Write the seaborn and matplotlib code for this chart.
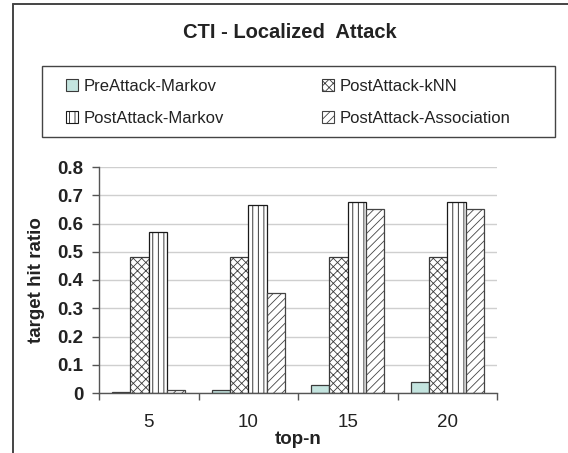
import matplotlib
matplotlib.use("Agg")
import matplotlib.pyplot as plt
from matplotlib.lines import Line2D
from matplotlib.patches import Patch, Rectangle
import numpy as np
import pandas as pd
import seaborn as sns

# ---- data -------------------------------------------------------------
top_n = ["5", "10", "15", "20"]
methods = ["PreAttack-Markov", "PostAttack-kNN", "PostAttack-Markov", "PostAttack-Association"]
pre_markov = [0.002, 0.012, 0.030, 0.040]
post_knn = [0.480, 0.480, 0.480, 0.480]
post_markov = [0.570, 0.665, 0.675, 0.675]
post_assoc = [0.012, 0.355, 0.652, 0.652]
y_ticks = [0, 0.1, 0.2, 0.3, 0.4, 0.5, 0.6, 0.7, 0.8]
y_tick_labels = ["0", "0.1", "0.2", "0.3", "0.4", "0.5", "0.6", "0.7", "0.8"]

df = pd.DataFrame({
    "top-n": top_n * 4,
    "ratio": pre_markov + post_knn + post_markov + post_assoc,
    "method": [m for m in methods for _ in top_n],
})

# ---- styling ----------------------------------------------------------
sns.set_style("white")
plt.rcParams["font.family"] = ["Liberation Sans", "DejaVu Sans"]
plt.rcParams["hatch.linewidth"] = 0.6

styles = {
    "PreAttack-Markov":       dict(face="#c4e4df", hatch=None,   edge="#3a3a3a", hcol=None),
    "PostAttack-kNN":         dict(face="white",   hatch="xxxx", edge="#3a3a3a", hcol="#7a7a7a"),
    "PostAttack-Markov":      dict(face="white",   hatch="|||",  edge="#1a1a1a", hcol="#555555"),
    "PostAttack-Association": dict(face="white",   hatch="////", edge="#444444", hcol="#777777"),
}


def apply_style(patch, st, lw):
    patch.set_facecolor(st["face"])
    patch.set_edgecolor(st["edge"])
    patch.set_linewidth(lw)
    if st["hatch"]:
        patch.set_hatch(st["hatch"])
        if st["hcol"] and hasattr(patch, "set_hatchcolor"):
            patch.set_hatchcolor(st["hcol"])


W, H = 568, 453
fig = plt.figure(figsize=(W / 100, H / 100), dpi=100)
ax = fig.add_axes([99 / W, 1 - 393 / H, (497 - 99) / W, (393 - 167) / H])

sns.barplot(data=df, x="top-n", y="ratio", hue="method", order=top_n,
            hue_order=methods, palette=["white"] * 4, width=0.735, gap=0,
            legend=False, ax=ax, saturation=1, linewidth=0.9)

for method, cont in zip(methods, ax.containers):
    for bar in cont:
        apply_style(bar, styles[method], 0.9)
        bar.set_zorder(3)

# axes
ax.set_ylim(0, 0.8)
ax.set_xlim(-0.5, 3.5)
ax.set_yticks(y_ticks)
ax.set_yticklabels(y_tick_labels, fontweight="bold", fontsize=13.5, color="#222222")
ax.yaxis.grid(True, color="#cfcfcf", linewidth=1.0, zorder=0)
ax.set_axisbelow(True)
for s in ["top", "right"]:
    ax.spines[s].set_visible(False)
for s in ["left", "bottom"]:
    ax.spines[s].set_color("#555555")
    ax.spines[s].set_linewidth(1.0)
    ax.spines[s].set_zorder(4)

ax.tick_params(axis="y", which="major", direction="out", length=5, width=1,
               color="#555555", pad=6, left=True)
ax.set_xticks(np.arange(len(top_n)))
ax.set_xticklabels(top_n, fontsize=13.5, color="#222222")
ax.set_xticks(np.arange(-0.5, len(top_n)), minor=True)
ax.tick_params(axis="x", which="major", length=0, pad=15)
ax.tick_params(axis="x", which="minor", direction="out", length=5, width=1,
               color="#555555", bottom=True)

ax.set_xlabel("top-n", fontweight="bold", fontsize=13.5, labelpad=0, color="#222222")
ax.set_ylabel("target hit ratio", fontweight="bold", fontsize=13.5, labelpad=9,
              color="#222222")

# chart title
fig.text(290 / W, 1 - 32 / H, "CTI - Localized  Attack", ha="center", va="center",
         fontsize=14.5, fontweight="bold", color="#222222")

# outer chart frame
fig.add_artist(Line2D([13 / W, 13 / W], [0, 1 - 4 / H], transform=fig.transFigure,
                      color="#444444", linewidth=1.4))
fig.add_artist(Line2D([13 / W, 1], [1 - 4 / H, 1 - 4 / H], transform=fig.transFigure,
                      color="#444444", linewidth=1.4))

# legend box
fig.add_artist(Rectangle((42 / W, 1 - 137 / H), (555 - 42) / W, (137 - 66) / H,
                         transform=fig.transFigure, fill=False,
                         edgecolor="#444444", linewidth=1.0))


def handle(method):
    p = Patch()
    apply_style(p, styles[method], 0.8)
    return p


legend_kw = dict(frameon=False, fontsize=12, handlelength=0.7,
                 handleheight=0.7, handletextpad=0.35, labelspacing=1.0,
                 borderpad=0, borderaxespad=0, loc="upper left",
                 labelcolor="#222222")
col1 = [methods[0], methods[2]]
col2 = [methods[1], methods[3]]
fig.legend([handle(m) for m in col1], col1,
           bbox_to_anchor=(66 / W, 1 - 79 / H), **legend_kw)
fig.legend([handle(m) for m in col2], col2,
           bbox_to_anchor=(322 / W, 1 - 79 / H), **legend_kw)

fig.savefig("out.png", dpi=100)
